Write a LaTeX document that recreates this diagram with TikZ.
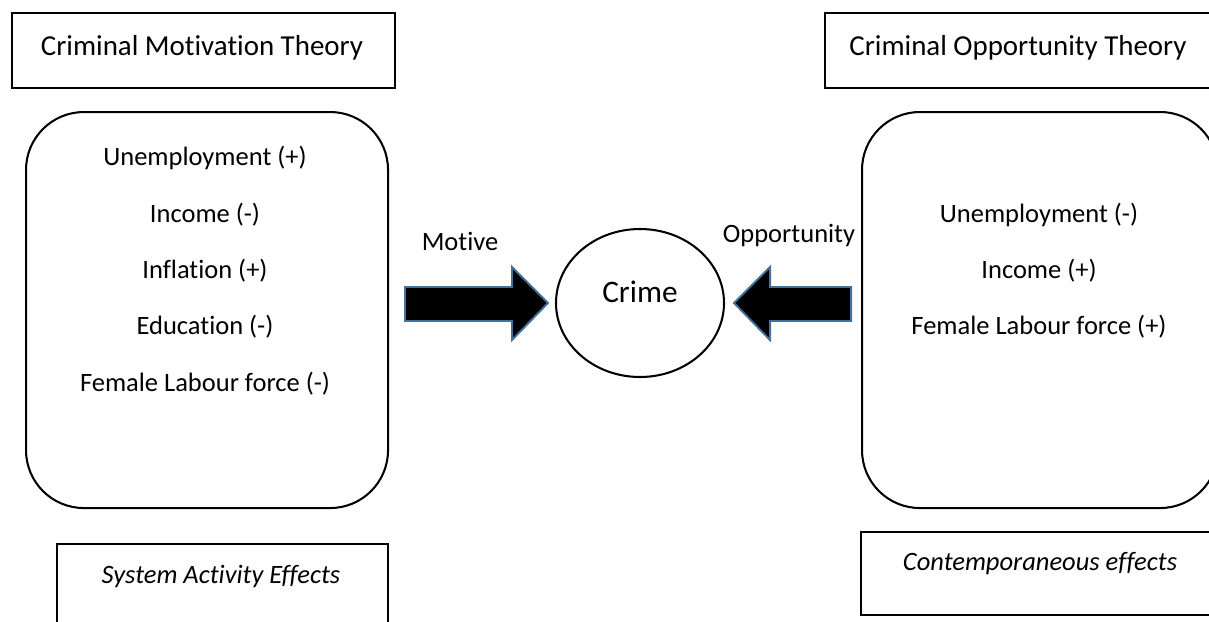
\documentclass[tikz,border=0pt]{standalone}
\usepackage{fontspec}
\setmainfont{Carlito}[Ligatures=NoCommon]
\usetikzlibrary{calc,shapes.geometric}
\definecolor{arrowblue}{HTML}{41719C}
\newcommand{\pxu}{0.415pt}
\tikzset{
  heading/.style={font=\fontsize{12}{14}\selectfont,anchor=base},
  body/.style={font=\fontsize{11}{13}\selectfont,anchor=base},
  effect/.style={font=\fontsize{11}{13}\selectfont\itshape,anchor=base},
  framebox/.style={draw=black,line width=0.85pt,fill=white,inner sep=0pt,anchor=north west},
  panel/.style={draw=black,line width=0.85pt,fill=white,rounded corners=24pt,inner sep=0pt,anchor=north west},
  crimeshape/.style={ellipse,draw=black,line width=0.85pt,inner sep=0pt,minimum width=168*\pxu,minimum height=148*\pxu},
  blockarr/.style={fill=black,draw=arrowblue,line width=0.8pt,line join=miter}
}
\begin{document}
\begin{tikzpicture}[x=0.415pt,y=-0.415pt]
\useasboundingbox (0,0) rectangle (1209,621);
\clip (0,0) rectangle (1209,621);

% theory headings
\node[framebox,minimum width=383*\pxu,minimum height=75*\pxu] (motth) at (11,12) {};
\node[heading] (mottxt) at (202,55) {Criminal Motivation Theory};
\node[framebox,minimum width=392*\pxu,minimum height=75*\pxu] (oppth) at (824,12) {};
\node[heading] (opptxt) at (1018,55) {Criminal Opportunity Theory};

% factor panels
\node[panel,minimum width=362*\pxu,minimum height=396*\pxu] (motpanel) at (25,111) {};
\foreach \y/\t [count=\i] in {165/{Unemployment (+)},222/{Income (-)},278/{Inflation (+)},334/{Education (-)},391/{Female Labour force (-)}}{
\node[body] (mot\i) at (205,\y) {\t};
}
\node[panel,minimum width=356*\pxu,minimum height=396*\pxu] (opppanel) at (861,111) {};
\foreach \y/\t [count=\i] in {222/{Unemployment (-)},278/{Income (+)},334/{Female Labour force (+)}}{
\node[body] (opp\i) at (1039,\y) {\t};
}

% crime and the two block arrows
\node[crimeshape] (crime) at (640,303) {};
\node[font=\fontsize{13}{15}\selectfont,anchor=base] (crimetxt) at (640,302) {Crime};
\draw[blockarr] ($(crime.west)+(-7,0)$) -- ++(-36,-36) -- ++(0,20) -- ++(-107,0) -- ++(0,34) -- ++(107,0) -- ++(0,19) -- cycle;
\draw[blockarr] ($(crime.east)+(9,0)$) -- ++(36,-36) -- ++(0,20) -- ++(81,0) -- ++(0,34) -- ++(-81,0) -- ++(0,19) -- cycle;
\node[body] (motlbl) at (460,250) {Motive};
\node[body] (opplbl) at (789,242) {Opportunity};

% effect boxes
\node[framebox,minimum width=331*\pxu,minimum height=100*\pxu] (sysfx) at (56,543) {};
\node[effect] (systxt) at (221,583) {System Activity Effects};
\node[framebox,minimum width=360*\pxu,minimum height=83*\pxu] (confx) at (860,531) {};
\node[effect] (contxt) at (1040,570) {Contemporaneous effects};
\end{tikzpicture}
\end{document}
